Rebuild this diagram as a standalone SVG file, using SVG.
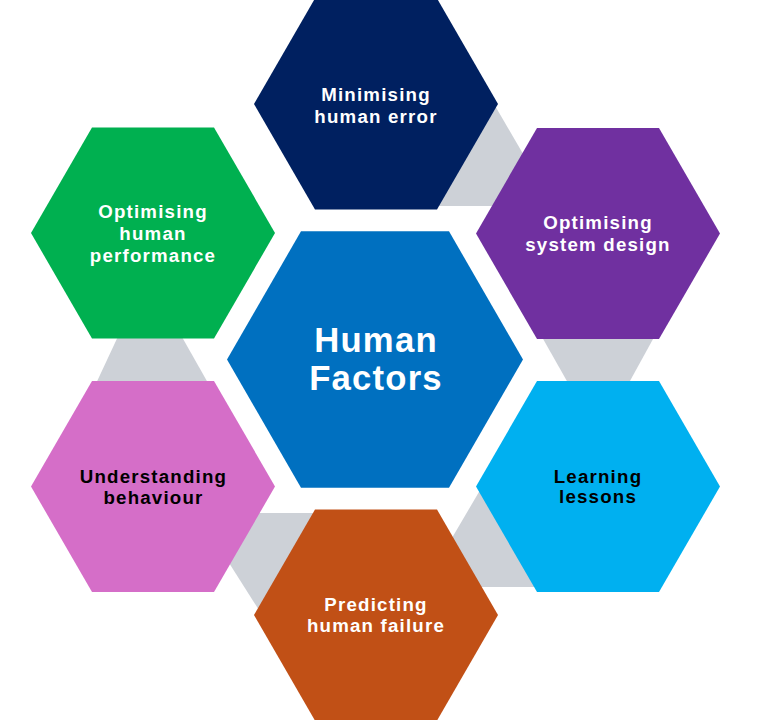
<svg xmlns="http://www.w3.org/2000/svg" width="771" height="720" viewBox="0 0 771 720">
<style>
.lbl{font-family:"Liberation Sans",Arial,sans-serif;font-weight:bold;font-size:18.7px;text-anchor:middle;letter-spacing:1.2px}
.w{fill:#FFFFFF}
.k{fill:#000000}
.big{font-size:34.7px;letter-spacing:1.2px}
.gray{fill:#CDD1D7}
</style>
<rect width="771" height="720" fill="#FFFFFF"/>
<g id="connectors">
<polygon class="gray" points="494,104 540,183 520,206 436,206 470,146"/>
<polygon class="gray" points="121,330 178,330 212,390 93,390"/>
<polygon class="gray" points="538,330 658,330 625,390 572,390"/>
<polygon class="gray" points="250,513 330,513 330,615 262,615 224,555"/>
<polygon class="gray" points="486,480 545,480 545,587 450,587 439,560"/>
</g>
<g id="node-center">
<polygon points="227,359.5 301,231.3 449,231.3 523,359.5 449,487.7 301,487.7" fill="#0070C0"/>
<text class="lbl w big" x="376" y="352">Human</text>
<text class="lbl w big" x="376" y="390">Factors</text>
</g>
<g id="node-top">
<polygon points="254,104 315,-1.6 437,-1.6 498,104 437,209.6 315,209.6" fill="#002060"/>
<text class="lbl w" x="376" y="101">Minimising</text>
<text class="lbl w" x="376" y="122.5">human error</text>
</g>
<g id="node-topleft">
<polygon points="31,233 92,127.4 214,127.4 275,233 214,338.6 92,338.6" fill="#00B050"/>
<text class="lbl w" x="153" y="218">Optimising</text>
<text class="lbl w" x="153" y="240">human</text>
<text class="lbl w" x="153" y="262">performance</text>
</g>
<g id="node-topright">
<polygon points="476,233.5 537,127.9 659,127.9 720,233.5 659,339.1 537,339.1" fill="#7030A0"/>
<text class="lbl w" x="598" y="229.3">Optimising</text>
<text class="lbl w" x="598" y="251">system design</text>
</g>
<g id="node-bottomleft">
<polygon points="31,486.5 92,380.9 214,380.9 275,486.5 214,592.1 92,592.1" fill="#D56EC8"/>
<text class="lbl k" x="153.5" y="483.3">Understanding</text>
<text class="lbl k" x="153.5" y="504.3">behaviour</text>
</g>
<g id="node-bottomright">
<polygon points="476,486.5 537,380.9 659,380.9 720,486.5 659,592.1 537,592.1" fill="#00B0F0"/>
<text class="lbl k" x="598" y="482.7">Learning</text>
<text class="lbl k" x="598" y="503.3">lessons</text>
</g>
<g id="node-bottom">
<polygon points="254,615 315,509.4 437,509.4 498,615 437,720.6 315,720.6" fill="#C15016"/>
<text class="lbl w" x="376" y="610.7">Predicting</text>
<text class="lbl w" x="376" y="632.3">human failure</text>
</g>
</svg>
